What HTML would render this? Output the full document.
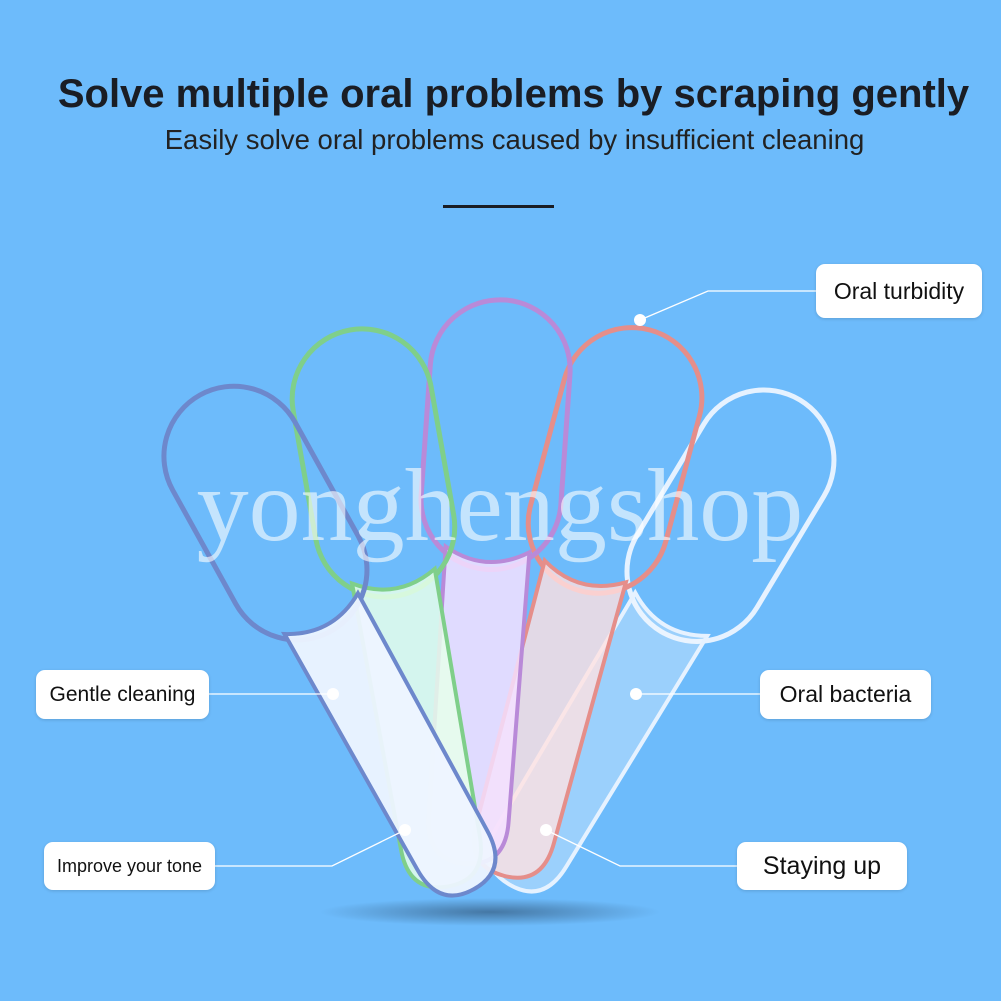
<!DOCTYPE html>
<html><head><meta charset="utf-8"><style>
html,body{margin:0;padding:0}
body{width:1001px;height:1001px;background:#6dbbfb;position:relative;overflow:hidden;font-family:"Liberation Sans",sans-serif}
.t{position:absolute;left:0;width:1001px;text-align:center;color:#1a1d24}
.lab{position:absolute;background:#fff;border-radius:9px;color:#111;display:flex;align-items:center;justify-content:center;box-shadow:0 1px 3px rgba(0,0,0,.15)}
</style></head><body>
<div class="t" style="top:72px;left:13px;font-size:40px;font-weight:bold">Solve multiple oral problems by scraping gently</div>
<div class="t" style="top:124px;left:14px;font-size:27.5px;color:#222">Easily solve oral problems caused by insufficient cleaning</div>
<div style="position:absolute;left:443px;top:205px;width:111px;height:3px;background:#1a1d24"></div>
<svg width="1001" height="1001" style="position:absolute;left:0;top:0">
<defs>
<radialGradient id="sh"><stop offset="0" stop-color="#2a4a6a" stop-opacity=".6"/><stop offset="1" stop-color="#2a4a6a" stop-opacity="0"/></radialGradient>
<g id="sc">
<rect x="-70" y="0" width="140" height="270" rx="70" fill="none" stroke-width="5"/>
<path d="M-42 250 Q0 275 42 250 L40 520 Q40 565 0 565 Q-40 565 -40 520 Z" stroke-width="4"/>
</g>
</defs>
<ellipse cx="490" cy="912" rx="170" ry="14" fill="url(#sh)"/>
<g transform="translate(800,400) rotate(31)" stroke="#e6f2ff" fill="rgba(240,248,255,0.35)"><use href="#sc"/></g>
<g transform="translate(650,330) rotate(15)" stroke="#e58e8a" fill="rgba(255,225,225,0.8)"><use href="#sc"/></g>
<g transform="translate(505,300) rotate(4)" stroke="#b98ad8" fill="rgba(245,225,255,0.85)"><use href="#sc"/></g>
<g transform="translate(350,330) rotate(-10)" stroke="#7fcf8a" fill="rgba(230,255,235,0.85)"><use href="#sc"/></g>
<g transform="translate(200,395) rotate(-29)" stroke="#6d88cc" fill="rgba(238,244,255,0.95)"><use href="#sc"/></g>
<text x="500" y="540" text-anchor="middle" font-family="Liberation Serif,serif" font-size="104" fill="rgba(255,255,255,0.6)">yonghengshop</text>
<g stroke="#fff" stroke-width="1.3" fill="none">
<polyline points="640,320 708,291 816,291"/>
<line x1="209" y1="694" x2="333" y2="694"/>
<line x1="636" y1="694" x2="760" y2="694"/>
<polyline points="215,866 332,866 405,830"/>
<polyline points="546,830 620,866 737,866"/>
</g>
<g fill="#fff"><circle cx="640" cy="320" r="6"/><circle cx="333" cy="694" r="6"/><circle cx="636" cy="694" r="6"/><circle cx="405" cy="830" r="6"/><circle cx="546" cy="830" r="6"/></g>
</svg>
<div class="lab" style="left:816px;top:264px;width:166px;height:54px;font-size:23px">Oral turbidity</div>
<div class="lab" style="left:36px;top:670px;width:173px;height:49px;font-size:21px">Gentle cleaning</div>
<div class="lab" style="left:760px;top:670px;width:171px;height:49px;font-size:23px">Oral bacteria</div>
<div class="lab" style="left:44px;top:842px;width:171px;height:48px;font-size:18px">Improve your tone</div>
<div class="lab" style="left:737px;top:842px;width:170px;height:48px;font-size:25px">Staying up</div>
</body></html>
